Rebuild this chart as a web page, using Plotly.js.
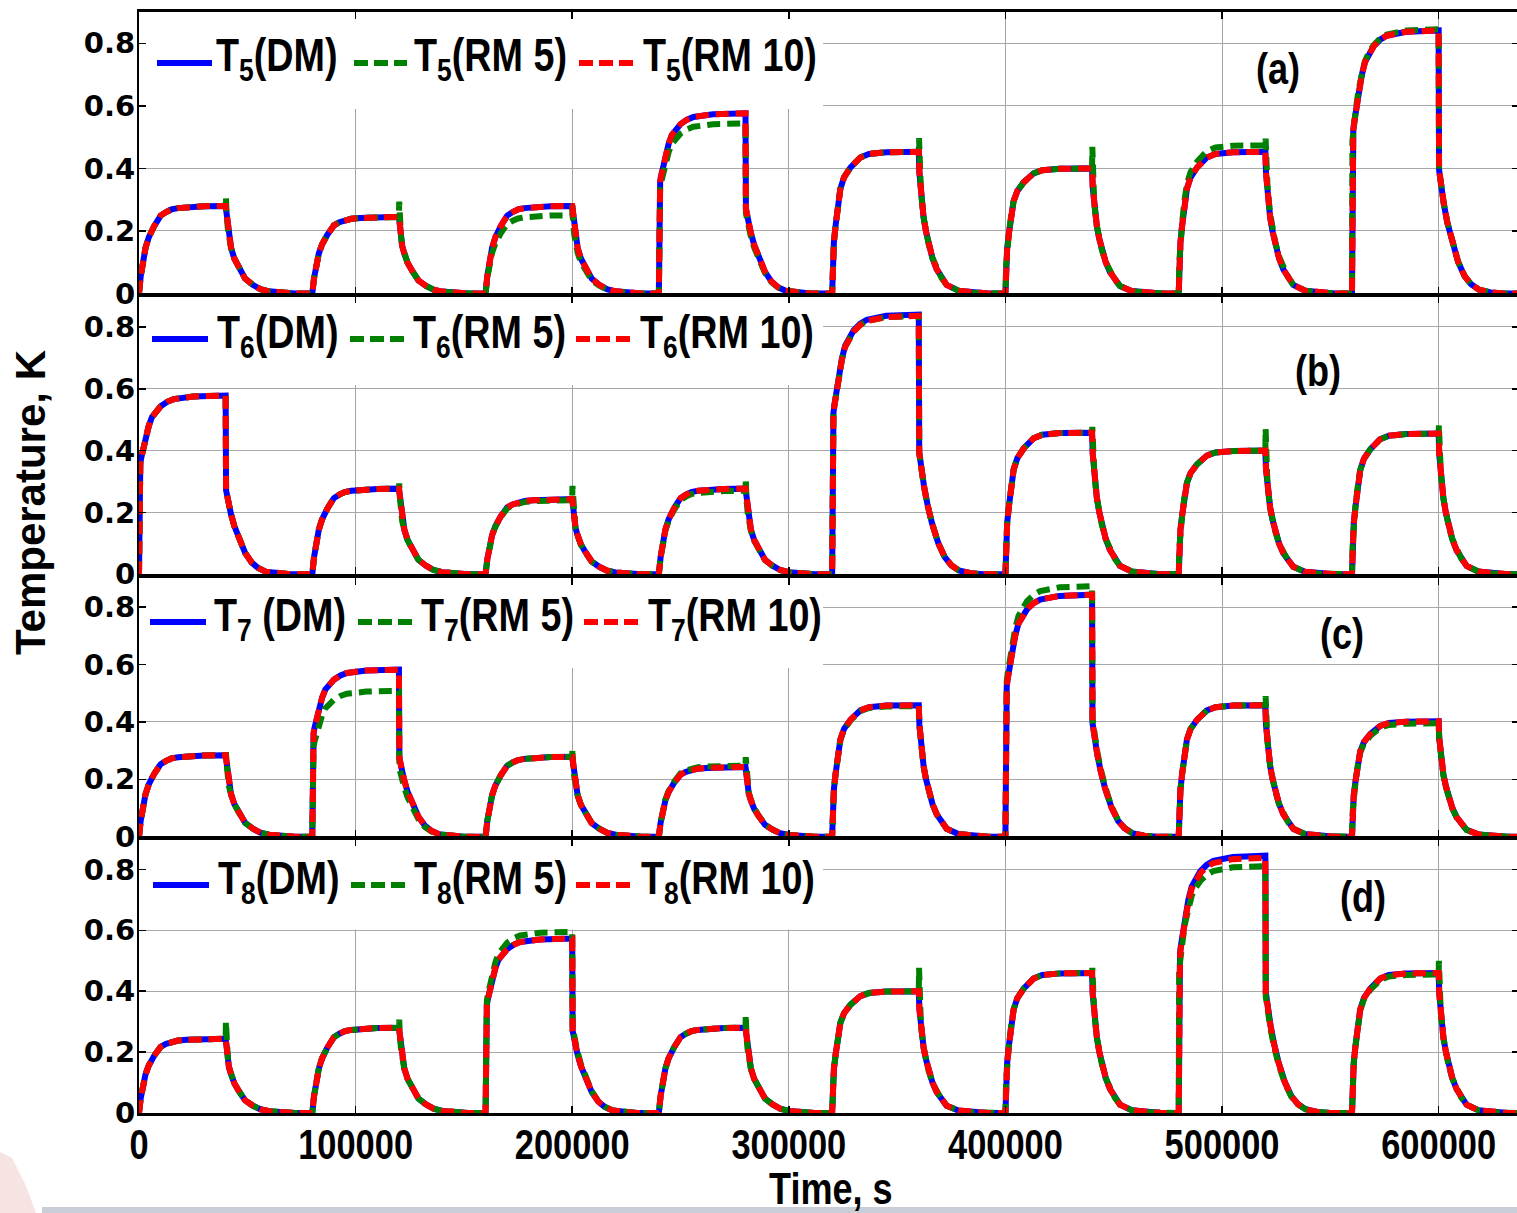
<!DOCTYPE html>
<html><head><meta charset="utf-8">
<script src="https://cdn.plot.ly/plotly-3.0.1.min.js"></script>
<style>
html,body{margin:0;padding:0;overflow:hidden;background:#fff}
#chart{width:1525px;height:1213px}
/* condensed look of the original narrow bold lettering */
#chart text.annotation-text{transform-box:fill-box;transform-origin:left center;transform:scaleX(0.82)}
#chart g.annotation-text-g[transform*="rotate(-90"] text.annotation-text{transform:none}
</style>
</head><body><div id="chart"></div>
<script>
// ---------------- data ----------------
const pulseStart = [0, 80000, 160000, 240000, 320000, 400000, 480000, 560000]; // s
const heatDuration = 40000; // s
const xMax = 637100;

// plateau levels per pulse (K)
const T5_DM   = [0.280, 0.245, 0.280, 0.576, 0.453, 0.400, 0.453, 0.841];
const T5_RM5  = [0.280, 0.245, 0.250, 0.544, 0.453, 0.400, 0.474, 0.845];
const T5_RM10 = [0.280, 0.245, 0.280, 0.576, 0.453, 0.400, 0.453, 0.841];
const T5_RM5_peak = [0.310, 0.294, 0.290, null, 0.497, 0.469, 0.495, null];

const T6_DM   = [0.578, 0.277, 0.243, 0.277, 0.840, 0.458, 0.400, 0.455];
const T6_RM5  = [0.578, 0.277, 0.240, 0.270, 0.836, 0.458, 0.400, 0.455];
const T6_RM10 = [0.578, 0.277, 0.243, 0.277, 0.836, 0.458, 0.400, 0.455];
const T6_RM5_peak = [null, 0.294, 0.286, 0.310, null, 0.477, 0.471, 0.482];

const T7_DM   = [0.284, 0.582, 0.278, 0.243, 0.458, 0.843, 0.458, 0.402];
const T7_RM5  = [0.284, 0.508, 0.278, 0.248, 0.455, 0.873, 0.458, 0.395];
const T7_RM10 = [0.284, 0.582, 0.278, 0.243, 0.458, 0.843, 0.458, 0.402];
const T7_RM5_peak = [0.294, null, 0.306, 0.277, null, null, 0.490, null];

const T8_DM   = [0.244, 0.280, 0.573, 0.280, 0.400, 0.460, 0.845, 0.460];
const T8_RM5  = [0.244, 0.280, 0.595, 0.280, 0.400, 0.460, 0.811, 0.455];
const T8_RM10 = [0.244, 0.280, 0.573, 0.280, 0.400, 0.460, 0.838, 0.460];
const T8_RM5_peak = [0.301, 0.307, null, 0.323, 0.477, 0.477, null, 0.500];

// normalised response shapes (time after switch, fraction of plateau)
const riseFarT  = [0, 300, 800, 1500, 2200, 3000, 4500, 6000, 7000, 8500, 10000, 12500, 15000, 18000, 22000, 30000, 40000];
const riseFarV  = [0, 0.12, 0.20, 0.30, 0.42, 0.52, 0.64, 0.73, 0.77, 0.83, 0.89, 0.93, 0.96, 0.975, 0.985, 0.997, 1];
const riseMidT  = [0, 300, 800, 1600, 2600, 3800, 5500, 8500, 13000, 17000, 25000, 40000];
const riseMidV  = [0, 0.22, 0.36, 0.48, 0.62, 0.74, 0.82, 0.89, 0.96, 0.985, 0.997, 1];
const riseNearT = [0, 200, 600, 1000, 2000, 3000, 4500, 6000, 8000, 10000, 13000, 16000, 25000, 40000];
const riseNearV = [0, 0.58, 0.62, 0.65, 0.71, 0.77, 0.83, 0.88, 0.915, 0.94, 0.965, 0.98, 0.995, 1];
const decayFarT  = [0, 500, 1000, 1500, 2500, 4000, 6000, 7500, 9000, 12500, 16000, 20000, 26000, 32000];
const decayFarV  = [1, 0.88, 0.74, 0.62, 0.52, 0.40, 0.30, 0.23, 0.17, 0.10, 0.05, 0.025, 0.008, 0];
const decayMidT  = [0, 300, 1000, 2200, 3300, 4500, 6300, 8300, 10500, 12900, 18300, 25000, 32000];
const decayMidV  = [1, 0.85, 0.72, 0.54, 0.44, 0.35, 0.25, 0.17, 0.11, 0.06, 0.02, 0.005, 0];
const decayNearT = [0, 200, 1000, 2400, 4000, 6000, 9000, 12000, 15000, 18500, 24000, 30000];
const decayNearV = [1, 0.47, 0.41, 0.34, 0.27, 0.20, 0.12, 0.066, 0.035, 0.015, 0.004, 0];

const panelNames = ['5', '6', '7', '8'];
const panelTags = ['(a)', '(b)', '(c)', '(d)'];
// ---------------------------------------------------------------

const shapes = {
  far:  {rt: riseFarT,  rv: riseFarV,  dt: decayFarT,  dv: decayFarV},
  mid:  {rt: riseMidT,  rv: riseMidV,  dt: decayMidT,  dv: decayMidV},
  near: {rt: riseNearT, rv: riseNearV, dt: decayNearT, dv: decayNearV}
};

function curve(levels, peaks, classLevels) {
  const x = [], y = [];
  for (let i = 0; i < pulseStart.length; i++) {
    const t0 = pulseStart[i], A = levels[i], c = classLevels[i];
    const s = shapes[c > 0.5 ? 'near' : (c > 0.35 ? 'mid' : 'far')];
    for (let j = 0; j < s.rt.length; j++) { x.push(t0 + s.rt[j]); y.push(A * s.rv[j]); }
    const toff = t0 + heatDuration;
    if (peaks && peaks[i] != null) { x.push(toff + 120); y.push(peaks[i]); }
    for (let j = 1; j < s.dt.length; j++) { x.push(toff + s.dt[j]); y.push(A * s.dv[j]); }
  }
  x.push(xMax); y.push(0);
  return {x, y};
}

const panels = [
  {dm: T5_DM, rm5: T5_RM5, rm10: T5_RM10, pk: T5_RM5_peak},
  {dm: T6_DM, rm5: T6_RM5, rm10: T6_RM10, pk: T6_RM5_peak},
  {dm: T7_DM, rm5: T7_RM5, rm10: T7_RM10, pk: T7_RM5_peak},
  {dm: T8_DM, rm5: T8_RM5, rm10: T8_RM10, pk: T8_RM5_peak}
];

const BLUE = '#0000ff', GREEN = '#008000', RED = '#ff0000';
const DASH = '13px,7px';
const sans = "'Liberation Sans', Arial, sans-serif";
const wide = "'DejaVu Sans', Verdana, sans-serif";

const traces = [];
panels.forEach((p, k) => {
  const xa = k === 0 ? 'x' : 'x' + (k + 1), ya = k === 0 ? 'y' : 'y' + (k + 1);
  const n = panelNames[k];
  const a = curve(p.dm, null, p.dm), b = curve(p.rm5, p.pk, p.dm), c = curve(p.rm10, null, p.dm);
  traces.push({x: a.x, y: a.y, xaxis: xa, yaxis: ya, mode: 'lines', name: 'T' + n + '(DM)',
    line: {color: BLUE, width: 6}, showlegend: false});
  traces.push({x: b.x, y: b.y, xaxis: xa, yaxis: ya, mode: 'lines', name: 'T' + n + '(RM 5)',
    line: {color: GREEN, width: 6, dash: DASH}, showlegend: false});
  traces.push({x: c.x, y: c.y, xaxis: xa, yaxis: ya, mode: 'lines', name: 'T' + n + '(RM 10)',
    line: {color: RED, width: 6, dash: DASH}, showlegend: false});
});

// layout geometry (pixels)
const W = 1525, H = 1213, L = 139, R = 6, T = 12, B = 100;
const PW = W - L - R, PH = H - T - B;
const px = v => (v - L) / PW;
const py = v => (H - B - v) / PH;

const domains = [[py(293.5), 1], [py(574.3), py(296)], [py(836.7), py(578.3)], [0, py(839)]];

const layout = {
  width: W, height: H,
  margin: {l: L, r: R, t: T, b: B},
  paper_bgcolor: '#fff', plot_bgcolor: '#fff',
  showlegend: false,
  shapes: [], annotations: []
};

domains.forEach((d, k) => {
  const sfx = k === 0 ? '' : String(k + 1);
  const last = k === 3;
  layout['xaxis' + sfx] = {
    domain: [0, 1], anchor: 'y' + sfx, range: [0, xMax],
    tick0: 0, dtick: 100000, tickformat: 'd',
    showgrid: true, gridcolor: '#a3a3a3', gridwidth: 1,
    ticks: 'inside', ticklen: 7, tickwidth: 1.5, tickcolor: '#000',
    showline: true, linecolor: '#000', linewidth: 3, mirror: 'ticks',
    zeroline: false, showticklabels: last,
    tickfont: {family: sans, size: 42, color: '#000', weight: 'bold'},
    ticklabelstandoff: -7
  };
  layout['yaxis' + sfx] = {
    domain: d, anchor: 'x' + sfx, range: [0, 0.9],
    tick0: 0, dtick: 0.2,
    showgrid: true, gridcolor: '#a8a8a8', gridwidth: 1,
    ticks: 'inside', ticklen: 7, tickwidth: 1.5, tickcolor: '#000',
    showline: true, linecolor: '#000', linewidth: 2, mirror: 'ticks',
    zeroline: false,
    tickfont: {family: wide, size: 29, color: '#000', weight: 'bold'},
    ticklabelstandoff: -4
  };
});

// white boxes behind the in-plot legends (hide the grid there)
const boxBottoms = [0.59, 0.612, 0.588, 0.603];
boxBottoms.forEach((b, k) => {
  const sfx = k === 0 ? '' : String(k + 1);
  layout.shapes.push({type: 'rect', xref: 'x' + sfx, yref: 'y' + sfx, layer: 'between',
    x0: 600, x1: 315800, y0: b, y1: 0.897, fillcolor: '#fff', line: {width: 0}});
});

// legends drawn inside each panel
const legendGeom = [
  {ly: 63,  seg: [[157, 212], [354, 407], [579, 635]], tx: [215, 413, 642]},
  {ly: 339, seg: [[152, 208], [350, 404], [576, 632]], tx: [216, 412, 639]},
  {ly: 622, seg: [[150, 206], [358, 413], [584, 640]], tx: [213, 420, 647]},
  {ly: 885, seg: [[153, 209], [351, 407], [576, 633]], tx: [217, 413, 640]}
];
const legendStyles = [
  {color: BLUE, dash: 'solid'}, {color: GREEN, dash: '14px,6px'}, {color: RED, dash: '14px,6px'}
];
legendGeom.forEach((g, k) => {
  const n = panelNames[k];
  const labels = [
    'T<sub>' + n + '</sub>' + (k === 2 ? ' (DM)' : '(DM)'),
    'T<sub>' + n + '</sub>(RM 5)',
    'T<sub>' + n + '</sub>(RM 10)'
  ];
  for (let i = 0; i < 3; i++) {
    layout.shapes.push({type: 'line', xref: 'paper', yref: 'paper',
      x0: px(g.seg[i][0]), x1: px(g.seg[i][1]), y0: py(g.ly), y1: py(g.ly),
      line: {color: legendStyles[i].color, width: 6, dash: legendStyles[i].dash}});
    layout.annotations.push({xref: 'paper', yref: 'paper', x: px(g.tx[i]), y: py(g.ly - 4),
      xanchor: 'left', yanchor: 'middle', showarrow: false, borderpad: 0, text: labels[i],
      font: {family: sans, size: 46, color: '#000', weight: 'bold'}});
  }
});

// panel tags (left edge in px, value on the panel's y axis)
const tagPos = [[1255, 0.72], [1294, 0.66], [1319, 0.709], [1339, 0.711]];
tagPos.forEach((p, k) => {
  const sfx = k === 0 ? '' : String(k + 1);
  layout.annotations.push({xref: 'paper', yref: 'y' + sfx, x: px(p[0]), y: p[1],
    text: panelTags[k], showarrow: false, xanchor: 'left', yanchor: 'middle', borderpad: 0,
    font: {family: sans, size: 44, color: '#000', weight: 'bold'}});
});

// x-axis title
layout.annotations.push({xref: 'paper', yref: 'paper', x: px(768), y: py(1188),
  text: 'Time, s', showarrow: false, xanchor: 'left', yanchor: 'middle', borderpad: 0,
  font: {family: sans, size: 44, color: '#000', weight: 'bold'}});

// y-axis title
layout.annotations.push({xref: 'paper', yref: 'paper', x: px(30), y: py(502),
  text: 'Temperature, K', textangle: -90, showarrow: false, xanchor: 'center', yanchor: 'middle',
  font: {family: sans, size: 42, color: '#000', weight: 'bold'}});

// slide decoration at the bottom
layout.shapes.push({type: 'rect', xref: 'paper', yref: 'paper', layer: 'below',
  x0: px(42), x1: px(W), y0: py(H), y1: py(1207), fillcolor: '#c9ced6', line: {width: 0}});
layout.shapes.push({type: 'path', xref: 'paper', yref: 'paper', layer: 'below',
  path: 'M' + px(0) + ',' + py(1152) + ' L' + px(12) + ',' + py(1158) + ' L' + px(26) + ',' + py(1186) +
        ' L' + px(36) + ',' + py(1213) + ' L' + px(0) + ',' + py(1213) + ' Z',
  fillcolor: 'rgba(225,178,172,0.35)', line: {width: 0}});

function condenseTicks(gd) {
  gd.querySelectorAll('g.x4tick text, g.xtick text').forEach(t => {
    if (t.getAttribute('data-condensed')) return;
    const tr = t.getAttribute('transform') || '';
    const x0 = parseFloat(t.getAttribute('x') || '0') || 0;
    t.setAttribute('transform', tr + ' translate(' + x0 + ',0) scale(0.82,1) translate(' + (-x0) + ',0)');
    t.setAttribute('data-condensed', '1');
  });
}

Plotly.newPlot('chart', traces, layout, {staticPlot: true, displayModeBar: false}).then(gd => {
  condenseTicks(gd);
  gd.on('plotly_afterplot', () => condenseTicks(gd));
});
</script></body></html>
